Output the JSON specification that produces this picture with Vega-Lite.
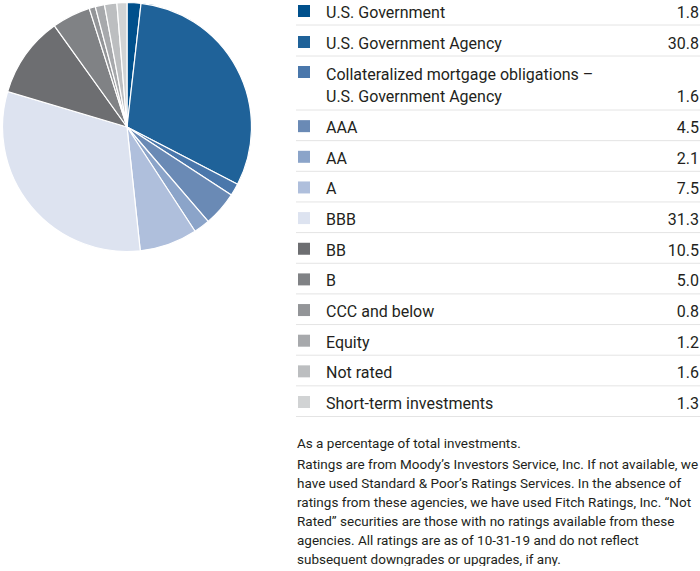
{
  "$schema": "https://vega.github.io/schema/vega-lite/v6.json",
  "padding": 0,
  "background": "white",
  "config": {
    "view": {"stroke": null},
    "font": "Roboto",
    "text": {"font": "Roboto", "color": "#231f20", "fontSize": 16},
    "title": {"font": "Roboto", "color": "#231f20", "fontWeight": "normal", "subtitleFont": "Roboto", "subtitleColor": "#231f20"}
  },
  "datasets": {
    "alloc": [
      {"category": "U.S. Government", "label": "U.S. Government", "value": 1.8, "rank": 1},
      {"category": "U.S. Government Agency", "label": "U.S. Government Agency", "value": 30.8, "rank": 2},
      {"category": "Collateralized mortgage obligations – U.S. Government Agency", "label": "Collateralized mortgage obligations –\nU.S. Government Agency", "value": 1.6, "rank": 3},
      {"category": "AAA", "label": "AAA", "value": 4.5, "rank": 4},
      {"category": "AA", "label": "AA", "value": 2.1, "rank": 5},
      {"category": "A", "label": "A", "value": 7.5, "rank": 6},
      {"category": "BBB", "label": "BBB", "value": 31.3, "rank": 7},
      {"category": "BB", "label": "BB", "value": 10.5, "rank": 8},
      {"category": "B", "label": "B", "value": 5.0, "rank": 9},
      {"category": "CCC and below", "label": "CCC and below", "value": 0.8, "rank": 10},
      {"category": "Equity", "label": "Equity", "value": 1.2, "rank": 11},
      {"category": "Not rated", "label": "Not rated", "value": 1.6, "rank": 12},
      {"category": "Short-term investments", "label": "Short-term investments", "value": 1.3, "rank": 13}
    ]
  },
  "data": {"name": "alloc"},
  "spacing": 44,
  "bounds": "flush",
  "hconcat": [
    {
      "width": 250,
      "height": 250,
      "mark": {"type": "arc", "outerRadius": 124.5, "stroke": "white", "strokeWidth": 1.2},
      "encoding": {
        "theta": {"field": "value", "type": "quantitative", "stack": true},
        "order": {"field": "rank", "type": "quantitative"},
        "color": {
          "field": "category", "type": "nominal", "legend": null,
          "scale": {
            "domain": ["U.S. Government", "U.S. Government Agency", "Collateralized mortgage obligations – U.S. Government Agency", "AAA", "AA", "A", "BBB", "BB", "B", "CCC and below", "Equity", "Not rated", "Short-term investments"],
            "range": ["#00508c", "#1f6299", "#4a77ab", "#6a8ab5", "#8ba4c9", "#afbfdc", "#dde3f0", "#6d6e71", "#808285", "#939598", "#a7a9ac", "#bcbec0", "#d1d3d4"]
          }
        }
      }
    },
    {
      "spacing": 0,
      "bounds": "flush",
      "vconcat": [
        {
          "width": 404,
          "height": 54,
          "transform": [{"filter": {"field": "category", "oneOf": ["U.S. Government", "U.S. Government Agency"]}}],
          "layer": [
            {
              "mark": {"type": "rule", "stroke": "#e4e4e4", "strokeWidth": 1},
              "encoding": {
                "y": {"field": "category", "type": "nominal", "bandPosition": 1, "axis": null,
                  "scale": {"domain": ["U.S. Government", "U.S. Government Agency"], "range": [-8, 54], "paddingInner": 0, "paddingOuter": 0}}
              }
            },
            {
              "mark": {"type": "square", "filled": true, "opacity": 1, "size": 144, "yOffset": -14},
              "encoding": {
                "x": {"value": 8},
                "y": {"field": "category", "type": "nominal", "bandPosition": 1, "axis": null},
                "color": {"field": "category", "type": "nominal", "legend": null}
              }
            },
            {
              "mark": {"type": "text", "align": "left", "baseline": "alphabetic", "dy": -7, "fontSize": 16},
              "encoding": {
                "x": {"value": 30},
                "y": {"field": "category", "type": "nominal", "bandPosition": 1, "axis": null},
                "text": {"field": "label", "type": "nominal"}
              }
            },
            {
              "mark": {"type": "text", "align": "right", "baseline": "alphabetic", "dy": -7, "fontSize": 16},
              "encoding": {
                "x": {"value": 403},
                "y": {"field": "category", "type": "nominal", "bandPosition": 1, "axis": null},
                "text": {"field": "value", "type": "quantitative", "format": ".1f"}
              }
            }
          ]
        },
        {
          "width": 404,
          "height": 54,
          "transform": [{"filter": {"field": "category", "oneOf": ["Collateralized mortgage obligations – U.S. Government Agency"]}}],
          "layer": [
            {
              "mark": {"type": "rule", "stroke": "#e4e4e4", "strokeWidth": 1},
              "encoding": {
                "y": {"field": "category", "type": "nominal", "bandPosition": 1, "axis": null,
                  "scale": {"paddingInner": 0, "paddingOuter": 0}}
              }
            },
            {
              "mark": {"type": "square", "filled": true, "opacity": 1, "size": 144, "yOffset": -38},
              "encoding": {
                "x": {"value": 8},
                "y": {"field": "category", "type": "nominal", "bandPosition": 1, "axis": null},
                "color": {"field": "category", "type": "nominal", "legend": null}
              }
            },
            {
              "mark": {"type": "text", "align": "left", "baseline": "alphabetic", "dy": -30, "fontSize": 16, "lineBreak": "\n", "lineHeight": 21.5},
              "encoding": {
                "x": {"value": 30},
                "y": {"field": "category", "type": "nominal", "bandPosition": 1, "axis": null},
                "text": {"field": "label", "type": "nominal"}
              }
            },
            {
              "mark": {"type": "text", "align": "right", "baseline": "alphabetic", "dy": -8.5, "fontSize": 16},
              "encoding": {
                "x": {"value": 403},
                "y": {"field": "category", "type": "nominal", "bandPosition": 1, "axis": null},
                "text": {"field": "value", "type": "quantitative", "format": ".1f"}
              }
            }
          ]
        },
        {
          "width": 404,
          "height": 306.5,
          "transform": [{"filter": {"field": "category", "oneOf": ["AAA", "AA", "A", "BBB", "BB", "B", "CCC and below", "Equity", "Not rated", "Short-term investments"]}}],
          "title": {
            "text": "As a percentage of total investments.",
            "subtitle": [
              "Ratings are from Moody’s Investors Service, Inc. If not available, we",
              "have used Standard & Poor’s Ratings Services. In the absence of",
              "ratings from these agencies, we have used Fitch Ratings, Inc. “Not",
              "Rated” securities are those with no ratings available from these",
              "agencies. All ratings are as of 10-31-19 and do not reflect",
              "subsequent downgrades or upgrades, if any."
            ],
            "orient": "bottom",
            "anchor": "start",
            "frame": "group",
            "offset": 20,
            "dx": 1,
            "fontSize": 13.5,
            "subtitleFontSize": 13.5,
            "subtitleLineHeight": 19,
            "subtitlePadding": 7
          },
          "layer": [
            {
              "mark": {"type": "rule", "stroke": "#e4e4e4", "strokeWidth": 1},
              "encoding": {
                "y": {"field": "category", "type": "nominal", "bandPosition": 1, "axis": null,
                  "scale": {"domain": ["AAA", "AA", "A", "BBB", "BB", "B", "CCC and below", "Equity", "Not rated", "Short-term investments"], "paddingInner": 0, "paddingOuter": 0}}
              }
            },
            {
              "mark": {"type": "square", "filled": true, "opacity": 1, "size": 144, "yOffset": -14.5},
              "encoding": {
                "x": {"value": 8},
                "y": {"field": "category", "type": "nominal", "bandPosition": 1, "axis": null},
                "color": {"field": "category", "type": "nominal", "legend": null}
              }
            },
            {
              "mark": {"type": "text", "align": "left", "baseline": "alphabetic", "dy": -7.5, "fontSize": 16},
              "encoding": {
                "x": {"value": 30},
                "y": {"field": "category", "type": "nominal", "bandPosition": 1, "axis": null},
                "text": {"field": "label", "type": "nominal"}
              }
            },
            {
              "mark": {"type": "text", "align": "right", "baseline": "alphabetic", "dy": -7.5, "fontSize": 16},
              "encoding": {
                "x": {"value": 403},
                "y": {"field": "category", "type": "nominal", "bandPosition": 1, "axis": null},
                "text": {"field": "value", "type": "quantitative", "format": ".1f"}
              }
            }
          ]
        }
      ]
    }
  ]
}
